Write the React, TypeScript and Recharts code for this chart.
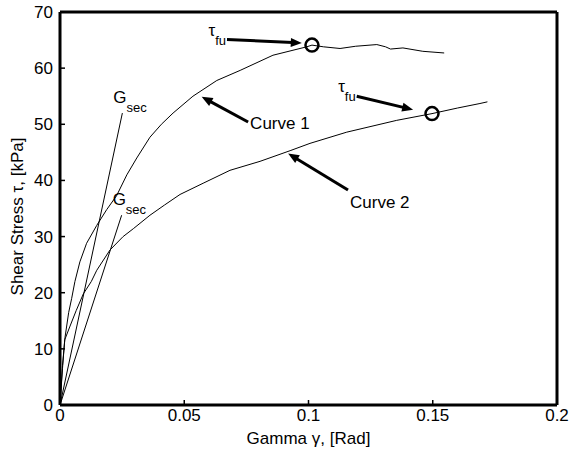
import { ComposedChart, Line, Scatter, XAxis, YAxis, ReferenceLine, ReferenceDot, Label } from 'recharts';

const gammaTicks = [0, 0.05, 0.1, 0.15, 0.2];
const tauTicks = [0, 10, 20, 30, 40, 50, 60, 70];

// Curve 1 (upper test)
const curve1Gamma = [0, 0.001, 0.002, 0.0035, 0.0047, 0.006, 0.008, 0.0107, 0.0148, 0.0188, 0.0228, 0.0269, 0.0309, 0.0362, 0.0408, 0.0455, 0.0535, 0.0631, 0.0725, 0.0857, 0.0993, 0.1014, 0.106, 0.1127, 0.119, 0.1275, 0.131, 0.133, 0.138, 0.146, 0.1546];
const curve1Tau = [0, 7, 12, 16.5, 19, 22, 25.5, 28.8, 32, 34.8, 37.3, 41, 44, 47.7, 50, 52, 55, 57.8, 59.6, 62.3, 63.8, 64.1, 63.8, 63.5, 63.9, 64.2, 63.8, 63.4, 63.6, 63.0, 62.7];

// Curve 2 (lower test)
const curve2Gamma = [0, 0.001, 0.0019, 0.0039, 0.0065, 0.0094, 0.0126, 0.0148, 0.0201, 0.0254, 0.0295, 0.0362, 0.042, 0.0483, 0.0576, 0.0684, 0.0805, 0.0926, 0.1006, 0.1154, 0.1355, 0.1497, 0.16, 0.169, 0.172];
const curve2Tau = [0, 6.5, 11.6, 13.9, 16.8, 19.8, 22, 24, 27.6, 30, 31.4, 33.8, 35.6, 37.5, 39.5, 41.8, 43.4, 45.3, 46.6, 48.6, 50.7, 51.9, 52.9, 53.7, 54.0];

// secant modulus lines
const secant1Gamma = [0, 0.0251];
const secant1Tau = [0, 52];
const secant2Gamma = [0, 0.0248];
const secant2Tau = [0, 33.8];

// failure points (tau_fu)
const failureGamma = [0.1014, 0.1497];
const failureTau = [64.1, 51.9];

// annotation arrows: tail -> head
const arrowFromGamma = [0.0672, 0.1194, 0.0757, 0.1159];
const arrowFromTau = [65.1, 55.0, 50.4, 38.3];
const arrowToGamma = [0.0973, 0.1421, 0.057, 0.0918];
const arrowToTau = [64.5, 52.6, 54.9, 44.8];
const arrowLabels = ['τ', 'τ', 'Curve 1', 'Curve 2'];

const zip = (xs: number[], ys: number[]) => xs.map((x, i) => ({ x, y: ys[i] }));

const curve1 = zip(curve1Gamma, curve1Tau);
const curve2 = zip(curve2Gamma, curve2Tau);
const secant1 = zip(secant1Gamma, secant1Tau);
const secant2 = zip(secant2Gamma, secant2Tau);
const failures = zip(failureGamma, failureTau);

const FONT = '"Liberation Sans", Arial, sans-serif';

function arrowShape(label: string, idx: number) {
  return (props: any) => {
    const { x1, y1, x2, y2 } = props;
    const dx = x2 - x1;
    const dy = y2 - y1;
    const len = Math.hypot(dx, dy) || 1;
    const ux = dx / len;
    const uy = dy / len;
    const headLen = 11;
    const headW = 4.5;
    const bx = x2 - ux * headLen;
    const by = y2 - uy * headLen;
    const pts = `${x2},${y2} ${bx - uy * headW},${by + ux * headW} ${bx + uy * headW},${by - ux * headW}`;
    let text;
    if (label === 'τ') {
      text = (
        <text x={x1 - 1} y={y1 - 4} textAnchor="end" fontSize={17} fontFamily={FONT} fill="#000">
          τ<tspan fontSize={13} dy={9}>fu</tspan>
        </text>
      );
    } else {
      text = (
        <text x={x1 + 2} y={y1 + (idx === 2 ? 7 : 18)} fontSize={17} fontFamily={FONT} fill="#000">
          {label}
        </text>
      );
    }
    return (
      <g>
        <line x1={x1} y1={y1} x2={bx + ux * 2} y2={by + uy * 2} stroke="#000" strokeWidth={3} />
        <polygon points={pts} fill="#000" />
        {text}
      </g>
    );
  };
}

const gsecLabel = (props: any) => {
  const { cx, cy } = props;
  return (
    <text x={cx - 9} y={cy - 10} fontSize={17} fontFamily={FONT} fill="#000">
      G<tspan fontSize={13} dy={9}>sec</tspan>
    </text>
  );
};

const failureCircle = (props: any) => (
  <circle cx={props.cx} cy={props.cy} r={6.5} fill="none" stroke="#000" strokeWidth={2.5} />
);

const yTitle = (props: any) => {
  const { viewBox } = props;
  const cx = 23;
  const cy = viewBox.y + viewBox.height / 2 + 8;
  return (
    <text x={cx} y={cy} transform={`rotate(-90, ${cx}, ${cy})`} textAnchor="middle" fontSize={17} fontFamily={FONT} fill="#000">
      Shear Stress τ, [kPa]
    </text>
  );
};

const axisLine = { stroke: '#000', strokeWidth: 3 };
const tickLine = { stroke: '#000', strokeWidth: 1.5 };
const tickStyle = { fill: '#000', fontSize: 17, fontFamily: FONT };
const blank = () => '';

export default function App() {
  return (
    <div style={{ position: 'absolute', left: 0, top: 0, width: 570, height: 454, background: '#fff', fontFamily: FONT }}>
      <ComposedChart width={570} height={454} margin={{ top: 11, right: 12, bottom: 0, left: 0 }}>
        <XAxis
          xAxisId={0}
          type="number"
          dataKey="x"
          domain={[0, 0.2]}
          ticks={gammaTicks}
          height={49}
          axisLine={axisLine}
          tickLine={tickLine}
          tickSize={-5}
          tickMargin={9}
          tick={tickStyle}
        >
          <Label value="Gamma γ, [Rad]" position="insideBottom" offset={10} fill="#000" fontSize={17} fontFamily={FONT} />
        </XAxis>
        <XAxis
          xAxisId="top"
          orientation="top"
          type="number"
          dataKey="x"
          domain={[0, 0.2]}
          ticks={gammaTicks}
          height={1}
          axisLine={axisLine}
          tickLine={tickLine}
          tickSize={-5}
          tickFormatter={blank}
        />
        <YAxis
          yAxisId={0}
          type="number"
          dataKey="y"
          domain={[0, 70]}
          ticks={tauTicks}
          width={60}
          axisLine={axisLine}
          tickLine={tickLine}
          tickSize={-5}
          tickMargin={12}
          tick={tickStyle}
        >
          <Label content={yTitle} />
        </YAxis>
        <YAxis
          yAxisId="right"
          orientation="right"
          type="number"
          dataKey="y"
          domain={[0, 70]}
          ticks={tauTicks}
          width={1}
          axisLine={axisLine}
          tickLine={tickLine}
          tickSize={-5}
          tickFormatter={blank}
        />
        <Line data={curve1} dataKey="y" type="linear" stroke="#000" strokeWidth={1} dot={false} isAnimationActive={false} />
        <Line data={curve2} dataKey="y" type="linear" stroke="#000" strokeWidth={1} dot={false} isAnimationActive={false} />
        <Line data={secant1} dataKey="y" type="linear" stroke="#000" strokeWidth={1} dot={false} isAnimationActive={false} />
        <Line data={secant2} dataKey="y" type="linear" stroke="#000" strokeWidth={1} dot={false} isAnimationActive={false} />
        <Scatter data={failures} dataKey="y" shape={failureCircle} isAnimationActive={false} />
        <ReferenceDot x={secant1Gamma[1]} y={secant1Tau[1]} shape={gsecLabel} />
        <ReferenceDot x={secant2Gamma[1]} y={secant2Tau[1]} shape={gsecLabel} />
        {arrowLabels.map((label, i) => (
          <ReferenceLine
            key={i}
            segment={[
              { x: arrowFromGamma[i], y: arrowFromTau[i] },
              { x: arrowToGamma[i], y: arrowToTau[i] },
            ]}
            shape={arrowShape(label, i)}
          />
        ))}
      </ComposedChart>
    </div>
  );
}
